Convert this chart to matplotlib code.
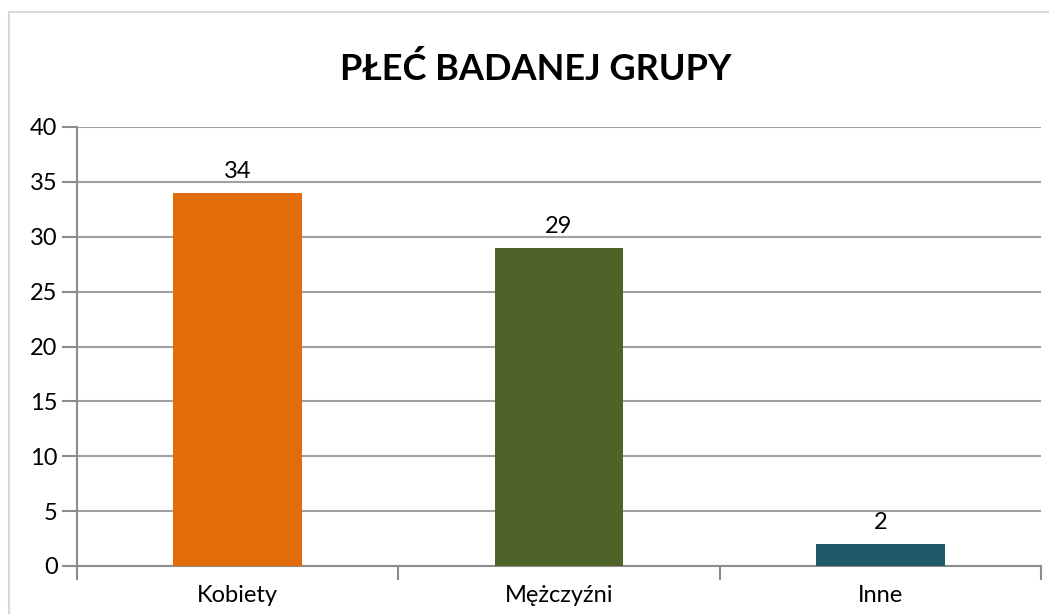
import matplotlib
matplotlib.use("Agg")
import matplotlib.pyplot as plt
from matplotlib.patches import Rectangle

categories = ["Kobiety", "Mężczyźni", "Inne"]
values = [34, 29, 2]
colors = ["#E36C0A", "#4F6228", "#215968"]
title = "PŁEĆ BADANEJ GRUPY"
yticks = [0, 5, 10, 15, 20, 25, 30, 35, 40]

plt.rcParams['font.family'] = ['Lato', 'DejaVu Sans']

W, H = 1049, 614
fig = plt.figure(figsize=(W / 100, H / 100), dpi=100)

# outer chart border
fig.patches.append(Rectangle((9 / W, -0.01), 1.2, (614 - 12) / H + 0.01,
                             transform=fig.transFigure, fill=False,
                             edgecolor="#D9D9D9", linewidth=1.5))

left, right, top, bottom = 77, 1041, 127, 566
ax = fig.add_axes([left / W, 1 - bottom / H, (right - left) / W, (bottom - top) / H])

x = list(range(len(categories)))
bars = ax.bar(x, values, width=0.4, color=colors, zorder=3)
ax.set_xlim(-0.5, len(categories) - 0.5)
ax.set_ylim(0, 40)
ax.set_yticks(yticks)
ax.set_xticks([i - 0.5 for i in range(len(categories) + 1)], minor=False)
ax.set_xticklabels([])
ax.set_xticks(x, minor=True)
ax.set_xticklabels(categories, minor=True)

ax.tick_params(axis="x", which="minor", length=0, labelsize=17, pad=14, colors="black")
ax.tick_params(axis="x", which="major", length=10, width=1.5, color="#8C8C8C")
ax.tick_params(axis="y", length=11, width=1.5, color="#8C8C8C", labelsize=17, pad=3, labelcolor="black")

ax.grid(axis="y", color="#A0A0A0", linewidth=1.5, zorder=0)
for s in ["top", "right"]:
    ax.spines[s].set_visible(False)
for s in ["left", "bottom"]:
    ax.spines[s].set_color("#8C8C8C")
    ax.spines[s].set_linewidth(1.5)

for b, v in zip(bars, values):
    ax.annotate(str(v), (b.get_x() + b.get_width() / 2, v), xytext=(0, 8),
                textcoords="offset points", ha="center", va="bottom", fontsize=17)

fig.text(536 / W, 1 - 69 / H, title, ha="center", va="center",
         fontsize=26, fontweight="bold")

fig.savefig("out.png", dpi=100)
